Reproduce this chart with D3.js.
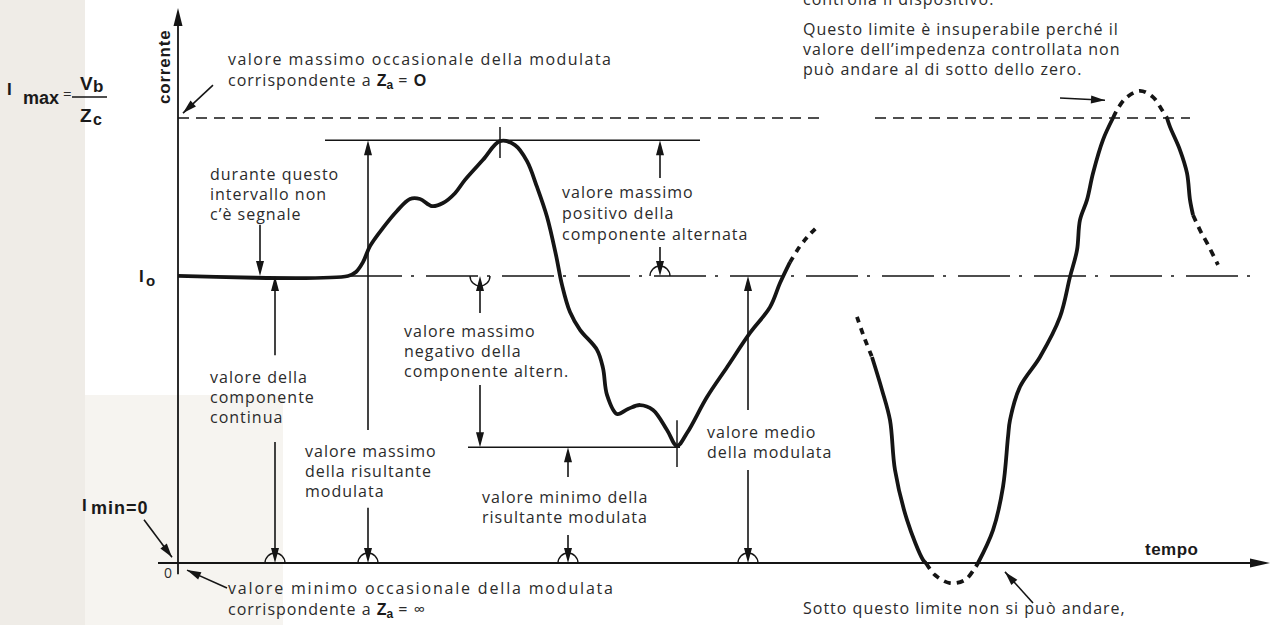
<!DOCTYPE html>
<html>
<head>
<meta charset="utf-8">
<script src="https://cdn.jsdelivr.net/npm/d3@7"></script>
<style>
body { margin: 0; background: #fff; }
svg { display: block; }
text { font-family: "Open Sans", sans-serif; font-size: 16px; fill: #2b2b2b; letter-spacing: 1px; }
.b { font-family: "Liberation Sans", sans-serif; font-weight: bold; fill: #1a1a1a; letter-spacing: 0; }
</style>
</head>
<body>
<svg width="1274" height="625"></svg>
<script>
// scala: tempo 0..1100, corrente 0..100 (100 = Imax)
var iMax = 100, iPeak = 95, iZero = 64.5, iLow = 26;

// curva modulata (tempo, corrente)
var mainCurve = [[0,64.5],[170,64.5],[178,65.4],[185,67.6],[192,71.2],[205,75.3],[219,79.1],[232,81.8],[242,81.8],
  [254,80.2],[265,80.9],[277,83.1],[287,86.1],[305,90.6],[322,94.8],[337,93.9],[349,90.3],[359,84.5],[369,77.8],
  [378,69.2],[384,62.5],[392,56.4],[402,52.4],[419,47.9],[425,43.8],[429,37.8],[439,33.5],[450,34.6],[462,35.5],
  [475,34.4],[489,29.9],[499,26.3],[509,29.2],[529,37.3],[549,44.0],[572,51.7],[592,57.5],[602,62.9],[612,67.6]];
var mainTail = [[612,67.6],[622,71.2],[632,73.9],[640,75.7]];

// secondo tratto, sovramodulato
var rightHead = [[679,55.3],[686,50.8],[694,46.3]];
var rightFall = [[694,46.3],[704,38.9],[712,32.1],[717,20.9],[729,9.7],[745,0.7],[748,0]];
var rightDip = [[748,0],[757,-2.7],[772,-4.5],[787,-3.8],[797,-1.1],[800,0]];
var rightRise = [[800,0],[815,7.4],[825,17.1],[830,28.3],[832,32.1],[842,39.6],[862,46.3],[882,55.3],[892,64.3],
  [899,70.3],[902,77.1],[909,81.6],[915,87.6],[925,95.1],[935,100]];
var rightArc = [[935,100],[940,102.2],[949,104.7],[962,106.1],[975,104.7],[984,101.8],[989,100]];
var rightDrop = [[989,100],[992,98],[1002,92.8],[1009,87.6],[1012,81.6],[1015,78.2]];
var rightTail = [[1015,78.2],[1022,74.8],[1030,71.5],[1040,67.0]];

// frecce verticali: tempo, da, a
var vArrows = [[82,76,iZero],[97,46.7,iZero],[97,27.2,0],[190,29.9,iPeak],[190,12.4,0],[302,56.2,iZero],
  [302,40,iLow],[482,86.5,iPeak],[482,71,iZero],[390,19.3,iLow],[390,6.3,0],[570,34.4,iZero],[570,20.9,0]];
// semicerchi: tempo, livello, verso (1 sopra, -1 sotto)
var cups = [[97,0,1],[190,0,1],[390,0,1],[570,0,1],[302,iZero,-1],[482,iZero,1]];
// frecce oblique
var dArrows = [[35,107.4,5,101.1],[-34,9.7,-6,1.3],[49,-5.6,9,-1.6],[855,-9,827,-2],[882,104.5,927,104.0]];

var svg = d3.select("svg");
var x = d3.scaleLinear().domain([0, 1100]).range([178, 1278]);
var y = d3.scaleLinear().domain([0, 100]).range([563, 118]);

svg.append("rect").attr("width", 1274).attr("height", 625).attr("fill", "#fff");
svg.append("rect").attr("width", 85).attr("height", 625).attr("fill", "#efece7");
svg.append("rect").attr("x", 85).attr("y", 395).attr("width", 198).attr("height", 230).attr("fill", "#f6f4f0");

var ink = "#151515";
function seg(x1, y1, x2, y2, w, dash) {
  var l = svg.append("line").attr("x1", x1).attr("y1", y1).attr("x2", x2).attr("y2", y2)
    .attr("stroke", ink).attr("stroke-width", w || 1.4);
  if (dash) l.attr("stroke-dasharray", dash);
  return l;
}
function head(x1, y1, x2, y2, len, hw) {
  var a = Math.atan2(y2 - y1, x2 - x1), c = Math.cos(a), s = Math.sin(a);
  var bx = x2 - len * c, by = y2 - len * s;
  svg.append("path").attr("fill", ink)
    .attr("d", "M" + x2 + "," + y2 + "L" + (bx - hw * s) + "," + (by + hw * c) + "L" + (bx + hw * s) + "," + (by - hw * c) + "Z");
}

// assi
seg(x(0), y(-2.5), x(0), y(122), 1.8);
head(x(0), y(0), x(0), y(124.7), 18, 4.5);
seg(x(-20), y(0), x(1078), y(0), 1.8);
head(x(0), y(0), x(1092), y(0), 20, 4.5);

// livelli
seg(x(0), y(iMax), x(642), y(iMax), 1.3, "11,7");
seg(x(697), y(iMax), x(1012), y(iMax), 1.3, "11,7");
seg(x(172), y(iZero), x(1072), y(iZero), 1.3, "52,9,3,12");
seg(x(147), y(iPeak), x(522), y(iPeak), 1.5);
seg(x(290), y(iLow), x(502), y(iLow), 1.5);
seg(x(322), y(98), x(322), y(91), 1.5);
seg(x(499), y(32.1), x(499), y(21.6), 1.5);

// curve
var line = d3.line().x(function(d) { return x(d[0]); }).y(function(d) { return y(d[1]); })
  .curve(d3.curveCatmullRom.alpha(0.5));
function curve(data, dash) {
  var p = svg.append("path").datum(data).attr("d", line).attr("fill", "none")
    .attr("stroke", ink).attr("stroke-width", 3.8).attr("stroke-linejoin", "round");
  if (dash) p.attr("stroke-dasharray", dash);
}
curve(mainCurve);
curve(mainTail, "6,6");
curve(rightHead, "6,6");
curve(rightFall);
curve(rightDip, "7,6");
curve(rightRise);
curve(rightArc, "7,6");
curve(rightDrop);
curve(rightTail, "7,6");

// frecce
vArrows.forEach(function(d) {
  var x0 = x(d[0]), y1 = y(d[1]), y2 = y(d[2]);
  seg(x0, y1, x0, y2 + (y2 > y1 ? -10 : 10), 1.6);
  head(x0, y1, x0, y2, 15, 4);
});
cups.forEach(function(d) {
  var cx = x(d[0]), cy = y(d[1]), r = 10;
  svg.append("path").attr("fill", "none").attr("stroke", ink).attr("stroke-width", 1.4)
    .attr("d", "M" + (cx - r) + "," + cy + "A" + r + "," + r + " 0 0 " + (d[2] > 0 ? 1 : 0) + " " + (cx + r) + "," + cy);
});
dArrows.forEach(function(d) {
  seg(x(d[0]), y(d[1]), x(d[2]), y(d[3]), 1.6);
  head(x(d[0]), y(d[1]), x(d[2]), y(d[3]), 14, 4);
});

// testi
function para(px, py, lines, lh) {
  lines.forEach(function(s, i) {
    svg.append("text").attr("x", px).attr("y", py + i * (lh || 20)).text(s);
  });
}
function za(px, py, pre, post) {
  var t = svg.append("text").attr("x", px).attr("y", py);
  t.append("tspan").text(pre);
  t.append("tspan").attr("class", "b").style("font-size", "16px").text("Z");
  t.append("tspan").attr("class", "b").style("font-size", "12px").attr("dy", 3).text("a");
  t.append("tspan").attr("dy", -3).text(" = ");
  t.append("tspan").attr("class", post == "O" ? "b" : null).style("font-size", post == "O" ? "16px" : null).text(post);
}
svg.append("text").attr("x", 228).attr("y", 65).attr("textLength", 384).attr("lengthAdjust", "spacing")
  .text("valore massimo occasionale della modulata");
za(228, 86, "corrispondente a ", "O");
para(210, 180, ["durante questo", "intervallo non", "c\u2019\u00e8 segnale"]);
para(210, 383, ["valore della", "componente", "continua"]);
para(305, 457, ["valore massimo", "della risultante", "modulata"]);
para(404, 337, ["valore massimo", "negativo della", "componente altern."]);
para(562, 198, ["valore massimo", "positivo della", "componente alternata"], 21);
para(482, 503, ["valore minimo della", "risultante modulata"]);
para(707, 438, ["valore medio", "della modulata"]);
svg.append("text").attr("x", 228).attr("y", 594).attr("textLength", 386).attr("lengthAdjust", "spacing")
  .text("valore minimo occasionale della modulata");
za(228, 615, "corrispondente a ", "\u221e");
para(803, 5, ["controlla il dispositivo."]);
para(803, 35, ["Questo limite \u00e8 insuperabile perch\u00e9 il", "valore dell\u2019impedenza controllata non",
  "pu\u00f2 andare al di sotto dello zero."]);
para(803, 614, ["Sotto questo limite non si pu\u00f2 andare,"]);

// etichette assi e livelli
svg.append("text").attr("class", "b").attr("transform", "translate(170,104) rotate(-90)")
  .style("font-size", "17px").style("letter-spacing", "0.8px").text("corrente");
svg.append("text").attr("class", "b").attr("x", 1145).attr("y", 555).style("font-size", "17px").style("letter-spacing", "0.5px").text("tempo");
svg.append("text").attr("x", 164).attr("y", 578).style("font-size", "14px").style("letter-spacing", "0").text("0");

var lab = svg.append("g");
lab.append("text").attr("class", "b").attr("x", 7).attr("y", 95).style("font-size", "17px").text("I");
lab.append("text").attr("class", "b").attr("x", 23).attr("y", 104).style("font-size", "18px").text("max");
lab.append("text").attr("x", 63).attr("y", 99).style("font-size", "15px").style("letter-spacing", "0").text("=");
lab.append("text").attr("class", "b").attr("x", 80).attr("y", 90).style("font-size", "19px").text("V");
lab.append("text").attr("class", "b").attr("x", 93).attr("y", 92).style("font-size", "17px").text("b");
svg.append("line").attr("x1", 72).attr("x2", 107).attr("y1", 97).attr("y2", 97).attr("stroke", ink).attr("stroke-width", 1.4);
lab.append("text").attr("class", "b").attr("x", 80).attr("y", 122).style("font-size", "19px").text("Z");
lab.append("text").attr("class", "b").attr("x", 93).attr("y", 125).style("font-size", "16px").text("c");
lab.append("text").attr("class", "b").attr("x", 139).attr("y", y(iZero) + 6).style("font-size", "17px").text("I");
lab.append("text").attr("class", "b").attr("x", 146).attr("y", y(iZero) + 10).style("font-size", "15px").text("o");
lab.append("text").attr("class", "b").attr("x", 82).attr("y", 511).style("font-size", "17px").text("I");
lab.append("text").attr("class", "b").attr("x", 91).attr("y", 514).style("font-size", "18px").style("letter-spacing", "1px").text("min=0");
</script>
</body>
</html>
